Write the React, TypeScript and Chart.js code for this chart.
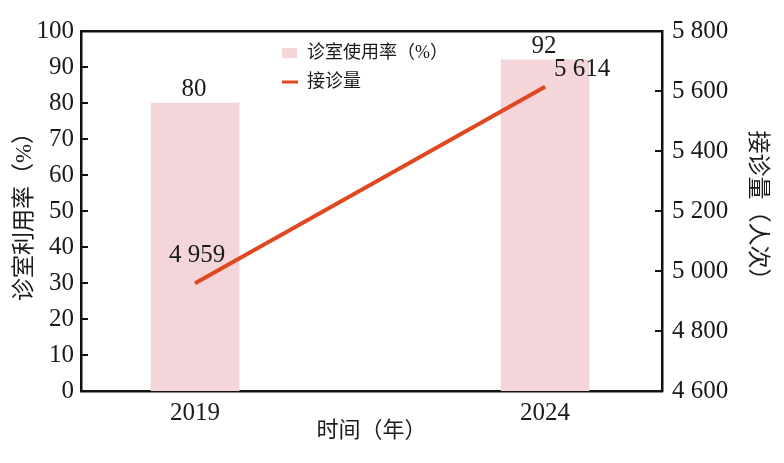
import React, { useEffect, useRef } from 'react';
import { Chart, registerables } from 'chart.js';

Chart.register(...registerables);

const years = ['2019', '2024'];
const roomUsage = [80, 92];
const visits = [4959, 5614];
const leftAxisRange = [0, 100, 10];
const rightAxisRange = [4600, 5800, 200];

const SERIF = '"Liberation Serif", "Noto Sans CJK SC", serif';
const TEXT = '#1a1a1a';
const BAR_COLOR = '#f4d5d9';
const LINE_COLOR = '#e0481f';

const fmt = (v: number) => {
  const s = String(Math.round(v));
  return s.length > 3 ? s.slice(0, -3) + ' ' + s.slice(-3) : s;
};

const decor = {
  id: 'decor',
  afterDatasetsDraw(chart: any) {
    const { ctx, chartArea: a } = chart;
    ctx.save();
    // inward tick marks
    ctx.strokeStyle = '#111';
    ctx.lineWidth = 2;
    const ys = chart.scales.y;
    ys.ticks.forEach((t: any) => {
      if (t.value <= ys.min || t.value >= ys.max) return;
      const p = ys.getPixelForValue(t.value);
      ctx.beginPath();
      ctx.moveTo(a.left, p);
      ctx.lineTo(a.left + 7, p);
      ctx.stroke();
    });
    const yr = chart.scales.y1;
    yr.ticks.forEach((t: any) => {
      if (t.value <= yr.min || t.value >= yr.max) return;
      const p = yr.getPixelForValue(t.value);
      ctx.beginPath();
      ctx.moveTo(a.right - 7, p);
      ctx.lineTo(a.right, p);
      ctx.stroke();
    });

    // data labels
    ctx.font = `25px ${SERIF}`;
    ctx.fillStyle = TEXT;
    ctx.textBaseline = 'alphabetic';
    chart.getDatasetMeta(1).data.forEach((el: any, i: number) => {
      ctx.textAlign = 'center';
      ctx.fillText(String(roomUsage[i]), el.x - 1, el.y - 7);
    });
    chart.getDatasetMeta(0).data.forEach((el: any, i: number) => {
      if (i === 0) {
        ctx.textAlign = 'center';
        ctx.fillText(fmt(visits[i]), el.x + 2, el.y - 21);
      } else {
        ctx.textAlign = 'left';
        ctx.fillText(fmt(visits[i]), el.x + 9, el.y - 11);
      }
    });

    // legend inside plot
    const x0 = a.left + 0.346 * a.width;
    const rows = [a.top + 22, a.top + 51];
    ctx.font = `18px ${SERIF}`;
    ctx.textAlign = 'left';
    ctx.textBaseline = 'middle';
    const dsBar = chart.data.datasets[1];
    const dsLine = chart.data.datasets[0];
    ctx.fillStyle = BAR_COLOR;
    ctx.fillRect(x0, rows[0] - 5, 15, 10);
    ctx.fillStyle = TEXT;
    ctx.fillText(dsBar.label, x0 + 25, rows[0]);
    ctx.fillStyle = LINE_COLOR;
    ctx.fillRect(x0, rows[1] - 1.5, 16, 3);
    ctx.fillStyle = TEXT;
    ctx.fillText(dsLine.label, x0 + 25, rows[1]);
    ctx.restore();
  },
};

export default function App() {
  const ref = useRef<HTMLCanvasElement | null>(null);
  useEffect(() => {
    if (!ref.current) return;
    const chart = new Chart(ref.current, {
      data: {
        datasets: [
          {
            type: 'line',
            label: '接诊量',
            data: visits.map((v, i) => ({ x: i, y: v })),
            borderColor: LINE_COLOR,
            backgroundColor: LINE_COLOR,
            borderWidth: 4,
            pointRadius: 0,
            yAxisID: 'y1',
            xAxisID: 'x',
            order: 0,
          },
          {
            type: 'bar',
            label: '诊室使用率（%）',
            data: roomUsage.map((v, i) => ({ x: i, y: v })),
            backgroundColor: BAR_COLOR,
            barThickness: 88,
            yAxisID: 'y',
            xAxisID: 'x',
            order: 1,
          },
        ] as any,
      },
      options: {
        animation: false,
        responsive: true,
        maintainAspectRatio: false,
        layout: { padding: { top: 31, left: 0, right: 0, bottom: 0 } },
        plugins: { legend: { display: false }, tooltip: { enabled: false } },
        scales: {
          x: {
            type: 'linear',
            position: 'bottom',
            offset: false,
            min: -0.326,
            max: 1.334,
            afterBuildTicks: (s: any) => {
              s.ticks = years.map((_, i) => ({ value: i }));
            },
            afterFit: (s: any) => {
              s.height = 72;
            },
            grid: { display: false, drawTicks: false },
            border: { display: true, color: '#111', width: 2.5 },
            ticks: {
              padding: 7,
              color: TEXT,
              font: { family: SERIF, size: 25 },
              callback: (v: any) => years[v] ?? '',
              maxRotation: 0,
              autoSkip: false,
            },
            title: {
              display: true,
              text: '时间（年）',
              color: TEXT,
              font: { family: SERIF, size: 22, lineHeight: 1 },
              padding: { top: 0, bottom: 21 },
            },
          },
          xTop: {
            type: 'linear',
            position: 'top',
            display: true,
            offset: false,
            afterFit: (s: any) => {
              s.height = 0;
            },
            grid: { display: false, drawTicks: false },
            border: { display: true, color: '#111', width: 2.5 },
            ticks: { display: false },
          },
          y: {
            type: 'linear',
            position: 'left',
            min: leftAxisRange[0],
            max: leftAxisRange[1],
            afterFit: (s: any) => {
              s.width = 81;
            },
            grid: { display: false, drawTicks: false },
            border: { display: true, color: '#111', width: 2.5 },
            ticks: {
              stepSize: leftAxisRange[2],
              padding: 7,
              color: TEXT,
              font: { family: SERIF, size: 25 },
            },
            title: {
              display: true,
              text: '诊室利用率（%）',
              color: TEXT,
              font: { family: SERIF, size: 23, lineHeight: 1 },
              padding: { top: 13, bottom: 0 },
            },
          },
          y1: {
            type: 'linear',
            position: 'right',
            min: rightAxisRange[0],
            max: rightAxisRange[1],
            afterFit: (s: any) => {
              s.width = 122;
            },
            grid: { display: false, drawTicks: false },
            border: { display: true, color: '#111', width: 2.5 },
            ticks: {
              stepSize: rightAxisRange[2],
              padding: 10,
              color: TEXT,
              font: { family: SERIF, size: 25 },
              callback: (v: any) => fmt(Number(v)),
            },
            title: {
              display: true,
              text: '接诊量（人次）',
              color: TEXT,
              font: { family: SERIF, size: 23, lineHeight: 1 },
              padding: { top: 15, bottom: 0 },
            },
          },
        },
      } as any,
      plugins: [decor],
    });
    return () => chart.destroy();
  }, []);

  return (
    <div style={{ position: 'fixed', left: 0, top: 0, width: 784, height: 463, background: '#fff' }}>
      <canvas ref={ref} />
    </div>
  );
}
